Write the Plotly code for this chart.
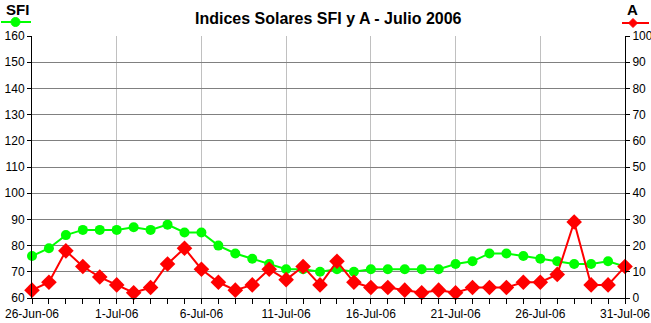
import plotly.graph_objects as go
import datetime as dt

start = dt.date(2006, 6, 26)
dates = [start + dt.timedelta(days=i) for i in range(36)]

sfi = [76, 79, 84, 86, 86, 86, 87, 86, 88, 85, 85, 80, 77, 75, 73, 71, 71, 70,
       71, 70, 71, 71, 71, 71, 71, 73, 74, 77, 77, 76, 75, 74, 73, 73, 74, 72]
a_idx = [3, 6, 18, 12, 8, 5, 2, 4, 13, 19, 11, 6, 3, 5, 11, 7, 12, 5,
         14, 6, 4, 4, 3, 2, 3, 2, 4, 4, 4, 6, 6, 9, 29, 5, 5, 12]

tick_dates = [start + dt.timedelta(days=5 * i) for i in range(8)]
tick_text = [f"{d.day}-{d.strftime('%b')}-06" for d in tick_dates]

W, H = 651, 323
L, R, T, B = 32, 625, 36, 298
pw, ph = R - L, B - T


def px(x):
    return (x - L) / pw


def py(y):
    return (B - y) / ph


font = "Liberation Sans, Arial, sans-serif"

fig = go.Figure()
fig.add_trace(go.Scatter(x=dates, y=sfi, mode="lines+markers", name="SFI",
                         line=dict(color="#00ff00", width=2),
                         marker=dict(symbol="circle", size=10, color="#00ff00"),
                         cliponaxis=False, yaxis="y"))
fig.add_trace(go.Scatter(x=dates, y=a_idx, mode="lines+markers", name="A",
                         line=dict(color="#ff0000", width=2),
                         marker=dict(symbol="diamond", size=12, color="#ff0000"),
                         cliponaxis=False, yaxis="y2"))

fig.update_layout(
    width=W, height=H,
    margin=dict(l=L, r=W - R, t=T, b=H - B, autoexpand=False),
    paper_bgcolor="white", plot_bgcolor="white",
    showlegend=False,
    font=dict(family=font, size=12, color="black"),
    xaxis=dict(
        type="date", automargin=False,
        range=[dates[0], dates[-1]],
        tickvals=tick_dates, ticktext=tick_text,
        showgrid=True, gridcolor="#c0c0c0", gridwidth=1,
        showline=True, linecolor="black", linewidth=1,
        ticks="outside", ticklen=5, tickcolor="black",
        minor=dict(tickvals=dates, ticks="outside", ticklen=5, tickcolor="black", showgrid=False),
        tickfont=dict(size=12, family=font),
        zeroline=False, mirror=False,
    ),
    yaxis=dict(
        range=[60, 160], dtick=10, automargin=False,
        showgrid=True, gridcolor="#808080", gridwidth=1,
        showline=True, linecolor="black", linewidth=1,
        ticks="outside", ticklen=4, tickcolor="black",
        tickfont=dict(size=12, family=font),
        zeroline=False,
    ),
    yaxis2=dict(
        range=[0, 100], dtick=10, overlaying="y", side="right", automargin=False,
        showgrid=False,
        showline=True, linecolor="black", linewidth=1,
        ticks="outside", ticklen=4, tickcolor="black",
        tickfont=dict(size=12, family=font),
        zeroline=False,
    ),
    annotations=[
        dict(text="<b>Indices Solares SFI y A - Julio 2006</b>", xref="paper", yref="paper",
             x=px(328), y=py(19), showarrow=False, font=dict(size=16, family=font),
             xanchor="center", yanchor="middle"),
        dict(text="<b>SFI</b>", xref="paper", yref="paper",
             x=px(17), y=py(9), showarrow=False, font=dict(size=15, family=font),
             xanchor="center", yanchor="middle"),
        dict(text="<b>A</b>", xref="paper", yref="paper",
             x=px(632), y=py(9), showarrow=False, font=dict(size=15, family=font),
             xanchor="center", yanchor="middle"),
    ],
    shapes=[
        dict(type="line", xref="paper", yref="paper", x0=px(1), x1=px(31), y0=py(22), y1=py(22),
             line=dict(color="#00ff00", width=2)),
        dict(type="circle", xref="paper", yref="paper", xsizemode="pixel", ysizemode="pixel",
             xanchor=px(15.5), yanchor=py(22), x0=-4.5, x1=4.5, y0=-4.5, y1=4.5,
             fillcolor="#00ff00", line=dict(color="#00ff00", width=1)),
        dict(type="line", xref="paper", yref="paper", x0=px(622), x1=px(649), y0=py(23), y1=py(23),
             line=dict(color="#ff0000", width=2)),
        dict(type="path", xref="paper", yref="paper", xsizemode="pixel", ysizemode="pixel",
             xanchor=px(633), yanchor=py(23), path="M 0 -4.5 L 4.5 0 L 0 4.5 L -4.5 0 Z",
             fillcolor="#ff0000", line=dict(color="#ff0000", width=1)),
    ],
)

fig.write_html("out.html")
